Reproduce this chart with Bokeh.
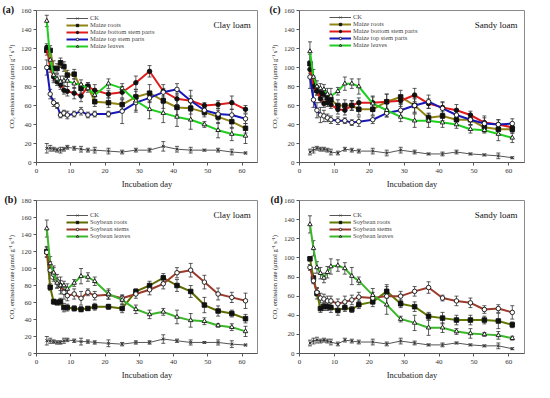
from bokeh.plotting import figure
from bokeh.layouts import gridplot
from bokeh.models import ColumnDataSource, Whisker, TeeHead, Label, Legend, LegendItem, Range1d, FixedTicker, Title
from bokeh.embed import file_html
from bokeh.resources import INLINE

days = [3, 4, 5, 6, 7, 8, 9, 11, 13, 15, 17, 21, 25, 29, 33, 37, 41, 45, 49, 53, 57, 61]

# (a) Clay loam, maize
a_ck = [15, 15, 14, 13, 13, 14, 16, 15, 14, 13, 13, 12, 11, 13, 13, 17, 14, 13, 13, 13, 11, 10]
a_ck_err = [5, 3, 2, 2, 3, 2, 2, 2, 3, 2, 3, 3, 2, 2, 2, 5, 3, 3, 1, 2, 3, 1]
a_roots = [118, 118, 99, 99, 105, 101, 92, 93, 78, 80, 64, 63, 61, 69, 73, 65, 58, 57, 53, 48, 43, 36]
a_roots_err = [5, 5, 8, 5, 5, 5, 5, 5, 5, 4, 5, 5, 5, 6, 9, 8, 8, 6, 5, 7, 7, 5]
a_bottom = [121, 100, 90, 85, 82, 76, 75, 73, 70, 80, 76, 72, 74, 84, 96, 75, 67, 65, 60, 61, 63, 56]
a_bottom_err = [4, 5, 4, 4, 5, 4, 5, 6, 6, 4, 6, 4, 6, 7, 6, 7, 6, 5, 3, 4, 7, 4]
a_top = [100, 72, 63, 60, 50, 52, 50, 51, 54, 50, 51, 51, 54, 63, 68, 74, 77, 65, 55, 51, 50, 46]
a_top_err = [8, 5, 4, 3, 3, 3, 4, 3, 4, 3, 3, 3, 13, 8, 5, 4, 6, 11, 5, 6, 6, 5]
a_leaves = [149, 108, 92, 88, 85, 86, 86, 83, 82, 78, 71, 83, 78, 65, 56, 52, 48, 45, 40, 34, 30, 28]
a_leaves_err = [6, 10, 8, 5, 6, 5, 6, 5, 5, 4, 5, 5, 5, 12, 10, 10, 10, 10, 3, 8, 7, 8]

# (c) Sandy loam, maize
c_ck = [11, 13, 15, 14, 14, 13, 11, 10, 14, 13, 12, 12, 10, 13, 11, 9, 9, 11, 9, 8, 7, 5]
c_ck_err = [3, 3, 2, 2, 2, 2, 3, 2, 2, 2, 2, 3, 3, 3, 2, 1, 2, 2, 1, 1, 3, 1]
c_roots = [104, 85, 76, 73, 72, 68, 66, 60, 60, 60, 56, 56, 64, 69, 60, 47, 49, 45, 45, 37, 35, 35]
c_roots_err = [10, 6, 5, 5, 4, 5, 5, 6, 6, 5, 6, 6, 8, 7, 7, 5, 5, 5, 5, 5, 5, 4]
c_bottom = [98, 80, 75, 67, 62, 63, 61, 56, 55, 60, 63, 63, 64, 65, 71, 62, 58, 55, 50, 42, 40, 37]
c_bottom_err = [8, 5, 4, 4, 4, 4, 4, 5, 5, 5, 5, 6, 8, 6, 7, 5, 6, 6, 4, 7, 5, 4]
c_top = [90, 66, 55, 50, 49, 47, 45, 44, 44, 42, 43, 45, 52, 55, 60, 64, 57, 50, 45, 41, 40, 41]
c_top_err = [12, 8, 8, 8, 6, 4, 4, 4, 3, 3, 5, 4, 4, 6, 8, 7, 6, 6, 5, 6, 5, 5]
c_leaves = [117, 90, 80, 78, 77, 72, 70, 75, 83, 83, 80, 62, 55, 48, 44, 44, 42, 40, 35, 34, 30, 26]
c_leaves_err = [10, 8, 6, 5, 5, 6, 8, 4, 7, 5, 8, 8, 7, 5, 7, 7, 5, 4, 4, 3, 7, 5]

# (b) Clay loam, soybean
b_ck = [15, 15, 14, 13, 13, 15, 16, 15, 14, 14, 13, 12, 11, 13, 13, 17, 15, 13, 13, 13, 11, 10]
b_ck_err = [5, 3, 2, 2, 2, 3, 2, 2, 4, 2, 2, 4, 2, 2, 2, 5, 2, 3, 1, 3, 4, 1]
b_roots = [120, 78, 61, 60, 61, 54, 54, 53, 52, 53, 55, 55, 53, 73, 80, 89, 80, 73, 57, 50, 47, 41]
b_roots_err = [6, 4, 3, 3, 4, 5, 4, 3, 3, 2, 4, 3, 5, 3, 5, 5, 7, 7, 9, 6, 4, 5]
b_stem = [119, 98, 93, 85, 80, 72, 68, 70, 65, 72, 68, 69, 65, 70, 75, 82, 95, 98, 84, 70, 66, 62]
b_stem_err = [6, 10, 8, 8, 10, 8, 6, 6, 8, 4, 5, 5, 4, 5, 6, 6, 6, 8, 8, 7, 6, 9]
b_leaves = [147, 106, 95, 83, 80, 80, 76, 83, 91, 90, 85, 70, 63, 52, 46, 49, 43, 39, 38, 33, 31, 26]
b_leaves_err = [10, 8, 8, 6, 6, 5, 6, 4, 9, 5, 5, 6, 5, 5, 5, 4, 8, 8, 4, 2, 4, 6]

# (d) Sandy loam, soybean
d_ck = [11, 13, 14, 13, 14, 13, 12, 10, 14, 13, 12, 12, 10, 13, 11, 9, 9, 11, 9, 8, 8, 5]
d_ck_err = [3, 3, 3, 2, 2, 2, 3, 2, 2, 2, 2, 3, 2, 3, 2, 1, 2, 1, 1, 1, 3, 1]
d_roots = [99, 79, 63, 47, 49, 49, 48, 45, 48, 46, 51, 54, 65, 52, 49, 39, 37, 35, 35, 35, 34, 30]
d_roots_err = [2, 5, 6, 4, 4, 4, 5, 5, 4, 3, 4, 5, 7, 4, 5, 4, 6, 5, 5, 4, 8, 3]
d_stem = [90, 76, 64, 58, 57, 55, 55, 52, 54, 56, 59, 58, 60, 60, 65, 69, 58, 55, 53, 46, 47, 43]
d_stem_err = [3, 3, 4, 5, 5, 5, 5, 5, 6, 5, 5, 6, 10, 5, 5, 6, 3, 5, 5, 4, 4, 7]
d_leaves = [135, 110, 90, 84, 79, 85, 91, 92, 89, 81, 76, 61, 51, 36, 32, 27, 27, 23, 21, 20, 19, 16]
d_leaves_err = [9, 8, 6, 6, 5, 6, 8, 6, 6, 9, 4, 7, 10, 3, 8, 8, 5, 3, 5, 2, 4, 2]

SERIF = "Liberation Serif"
YLABEL = "CO\u2082 emission rate (\u03bcmol g\u207b\u00b9 s\u207b\u00b9)"
W, H = 267, 191


def panel(tag, soil, ymax, series, borders):
    left, right, top, bottom = borders
    p = figure(width=W, height=H, output_backend="svg", toolbar_location=None,
               x_range=Range1d(0, 64.5), y_range=Range1d(0, ymax),
               min_border_left=left, min_border_right=right,
               min_border_top=top, min_border_bottom=bottom)
    p.title = Title(text=tag, align="left", offset=-left + 2, standoff=-9,
                    text_font=SERIF, text_font_style="bold", text_font_size="10px",
                    text_color="#111111", vertical_align="bottom")
    p.xgrid.visible = False
    p.ygrid.visible = False
    p.outline_line_color = "#8a8a8a"
    p.outline_line_width = 1
    p.background_fill_color = "white"
    p.border_fill_color = "white"
    p.xaxis.ticker = FixedTicker(ticks=[0, 10, 20, 30, 40, 50, 60])
    p.yaxis.ticker = FixedTicker(ticks=list(range(0, ymax + 1, 20)))
    for ax in (p.xaxis, p.yaxis):
        ax.axis_line_color = "#555555"
        ax.major_tick_line_color = "#555555"
        ax.minor_tick_line_color = None
        ax.major_tick_out = 3
        ax.major_tick_in = 0
        ax.major_label_text_font = SERIF
        ax.major_label_text_font_size = "7px"
        ax.major_label_text_color = "#333333"
        ax.axis_label_text_font = SERIF
        ax.axis_label_text_font_style = "normal"
        ax.axis_label_text_color = "#222222"
    p.xaxis.axis_label = "Incubation day"
    p.xaxis.axis_label_text_font_size = "8.5px"
    p.xaxis.axis_label_standoff = 3
    p.xaxis.major_label_standoff = 3
    p.yaxis.axis_label = YLABEL
    p.yaxis.axis_label_text_font_size = "6.5px"
    p.yaxis.axis_label_standoff = 3
    p.yaxis.major_label_standoff = 2

    items = []
    for name, vals, errs, color, marker, fill, lw in series:
        src = ColumnDataSource(dict(x=days, y=vals,
                                    up=[v + e for v, e in zip(vals, errs)],
                                    lo=[v - e for v, e in zip(vals, errs)]))
        w = Whisker(base="x", upper="up", lower="lo", source=src,
                    line_color="#333333", line_width=0.8,
                    upper_head=TeeHead(size=4, line_color="#333333", line_width=0.8),
                    lower_head=TeeHead(size=4, line_color="#333333", line_width=0.8))
        p.add_layout(w)
        r1 = p.line("x", "y", source=src, line_color=color, line_width=lw)
        if marker == "x":
            r2 = p.scatter("x", "y", source=src, marker="x", size=4,
                           line_color="#333333", line_width=1)
        else:
            r2 = p.scatter("x", "y", source=src, marker=marker, size=4.5,
                           line_color="#111111", fill_color=fill, line_width=0.9)
        items.append(LegendItem(label=name, renderers=[r1, r2]))

    n = len(items)
    pad = 2
    gap = 1 if n == 5 else 8
    frame_h = H - top - bottom
    leg_h = n * 7.5 + 2 * pad
    leg = Legend(items=items, border_line_color=None,
                 background_fill_alpha=0, label_text_font=SERIF,
                 label_text_font_size="6.5px", label_height=6, glyph_height=6,
                 glyph_width=22, spacing=0, padding=pad, margin=0,
                 label_standoff=2)
    p.add_layout(leg)
    leg.location = (30, int(frame_h - gap - leg_h))

    p.add_layout(Label(x=62.5, y=ymax * 0.905, text=soil, text_font=SERIF,
                       text_font_size="9px", text_baseline="middle",
                       text_align="right", text_color="#111111"))
    return p


GREEN = "#1fcf1f"
maize_a = [
    ("CK", a_ck, a_ck_err, "#555555", "x", None, 1),
    ("Maize roots", a_roots, a_roots_err, "#8f8414", "square", "#111111", 2),
    ("Maize bottom stem parts", a_bottom, a_bottom_err, "#e01b1b", "circle", "#111111", 2),
    ("Maize top stem parts", a_top, a_top_err, "#1818b8", "circle", "white", 2),
    ("Maize leaves", a_leaves, a_leaves_err, GREEN, "triangle", "white", 2),
]
maize_c = [
    ("CK", c_ck, c_ck_err, "#555555", "x", None, 1),
    ("Maize roots", c_roots, c_roots_err, "#8f8414", "square", "#111111", 2),
    ("Maize bottom stem parts", c_bottom, c_bottom_err, "#e01b1b", "circle", "#111111", 2),
    ("Maize top stem parts", c_top, c_top_err, "#1818b8", "circle", "white", 2),
    ("Maize leaves", c_leaves, c_leaves_err, GREEN, "triangle", "white", 2),
]
soy_b = [
    ("CK", b_ck, b_ck_err, "#555555", "x", None, 1),
    ("Soybean roots", b_roots, b_roots_err, "#5f6b00", "square", "#111111", 2),
    ("Soybean stems", b_stem, b_stem_err, "#9a3b2b", "circle", "white", 2),
    ("Soybean leaves", b_leaves, b_leaves_err, "#3bb52a", "triangle", "white", 2),
]
soy_d = [
    ("CK", d_ck, d_ck_err, "#555555", "x", None, 1),
    ("Soybean roots", d_roots, d_roots_err, "#5f7a00", "square", "#111111", 2),
    ("Soybean stems", d_stem, d_stem_err, "#9a3b2b", "circle", "white", 2),
    ("Soybean leaves", d_leaves, d_leaves_err, "#3bb52a", "triangle", "white", 2),
]

pa = panel("(a)", "Clay loam", 160, maize_a, (36, 10, 6, 29))
pc = panel("(c)", "Sandy loam", 160, maize_c, (32, 10, 10, 24))
pb = panel("(b)", "Clay loam", 180, soy_b, (34, 10, 6, 29))
pd = panel("(d)", "Sandy loam", 160, soy_d, (31, 10, 9, 26))

grid = gridplot([[pa, pc], [pb, pd]], toolbar_location=None)
open("out.html", "w").write(file_html(grid, INLINE))
